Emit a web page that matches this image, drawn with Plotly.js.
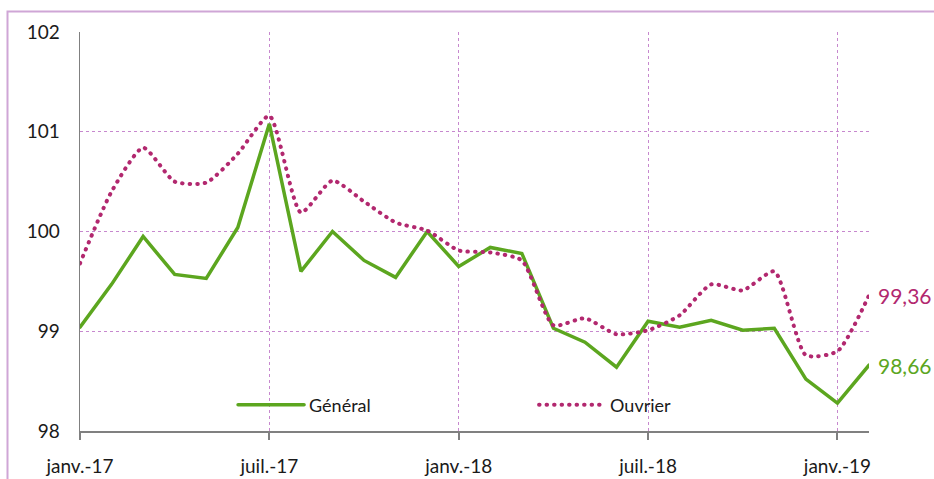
<!DOCTYPE html>
<html>
<head>
<meta charset="utf-8">
<script src="https://cdn.plot.ly/plotly-3.0.1.min.js"></script>
<style>
html,body{margin:0;padding:0;background:#fff;}
#chart{width:934px;height:479px;}
#chart path.js-line{stroke-linecap:round;}
</style>
</head>
<body>
<div id="chart"></div>
<script>
// Months (categories)
const months = [
  "janv.-17","févr.-17","mars-17","avr.-17","mai-17","juin-17",
  "juil.-17","août-17","sept.-17","oct.-17","nov.-17","déc.-17",
  "janv.-18","févr.-18","mars-18","avr.-18","mai-18","juin-18",
  "juil.-18","août-18","sept.-18","oct.-18","nov.-18","déc.-18",
  "janv.-19","févr.-19"
];
// Series values
const general = [
  99.04, 99.47, 99.95, 99.57, 99.53, 100.04,
  101.08, 99.60, 100.00, 99.71, 99.54, 100.00,
  99.65, 99.84, 99.78, 99.03, 98.89, 98.64,
  99.10, 99.04, 99.11, 99.01, 99.03, 98.52,
  98.28, 98.66
];
const ouvrier = [
  99.68, 100.40, 100.84, 100.50, 100.49, 100.78,
  101.16, 100.19, 100.51, 100.30, 100.09, 100.01,
  99.81, 99.79, 99.71, 99.06, 99.13, 98.97,
  99.01, 99.16, 99.47, 99.41, 99.60, 98.76,
  98.80, 99.36
];
// Tick labels
const xTickLabels = ["janv.-17","juil.-17","janv.-18","juil.-18","janv.-19"];
const yTicks = [98, 99, 100, 101, 102];

const green = "#5CA61F";
const purple = "#B2286F";
const gridCol = "#C788CE";
const font = "Lato, 'Open Sans', sans-serif";

const fmt = v => v.toFixed(2).replace(".", ",");
const last = months.length - 1;

const traces = [
  {x: months, y: general, name: "Général", type: "scatter", mode: "lines",
   line: {color: green, width: 3.5}},
  {x: months, y: ouvrier, name: "Ouvrier", type: "scatter", mode: "lines",
   line: {color: purple, width: 4, dash: "0.5px,7px", shape: "spline", smoothing: 0.6}}
];

const layout = {
  width: 934, height: 479,
  margin: {l: 80, r: 65, t: 32, b: 48},
  paper_bgcolor: "#fff", plot_bgcolor: "#fff",
  font: {family: font, size: 18, color: "#1a1a1a"},
  showlegend: true,
  legend: {orientation: "h", x: 0.194, y: 0.065, xanchor: "left", yanchor: "middle",
           bgcolor: "rgba(0,0,0,0)", font: {size: 18, color: "#1a1a1a"},
           itemwidth: 66, entrywidth: 220, traceorder: "normal"},
  xaxis: {type: "category", range: [0, last], tickvals: xTickLabels, ticktext: xTickLabels,
          tickfont: {size: 19},
          showgrid: true, gridcolor: gridCol, griddash: "dot", gridwidth: 1,
          showline: true, linecolor: "#808080", linewidth: 2,
          ticks: "outside", ticklen: 7, tickcolor: "#808080", tickwidth: 2,
          ticklabelstandoff: 10, zeroline: false, fixedrange: true},
  yaxis: {range: [98, 102], tickvals: yTicks, ticktext: yTicks.map(String),
          tickfont: {size: 19},
          showgrid: true, gridcolor: gridCol, griddash: "dot", gridwidth: 1,
          showline: true, linecolor: "#808080", linewidth: 1.5,
          ticks: "", ticklabelstandoff: 15, zeroline: false, fixedrange: true},
  annotations: [
    {x: months[last], y: ouvrier[last], xref: "x", yref: "y", text: fmt(ouvrier[last]),
     showarrow: false, xanchor: "left", xshift: 7, font: {size: 21, color: purple}},
    {x: months[last], y: general[last], xref: "x", yref: "y", text: fmt(general[last]),
     showarrow: false, xanchor: "left", xshift: 7, font: {size: 21, color: green}}
  ],
  shapes: [
    {type: "rect", xref: "paper", yref: "paper",
     x0: (7.5 - 80) / 789, x1: 1.3, y0: -0.3, y1: (431 - 11.5) / 399,
     line: {color: "#CFA6D6", width: 2}, fillcolor: "rgba(0,0,0,0)", layer: "below"}
  ]
};

Plotly.newPlot("chart", traces, layout, {staticPlot: true, displayModeBar: false});
</script>
</body>
</html>
